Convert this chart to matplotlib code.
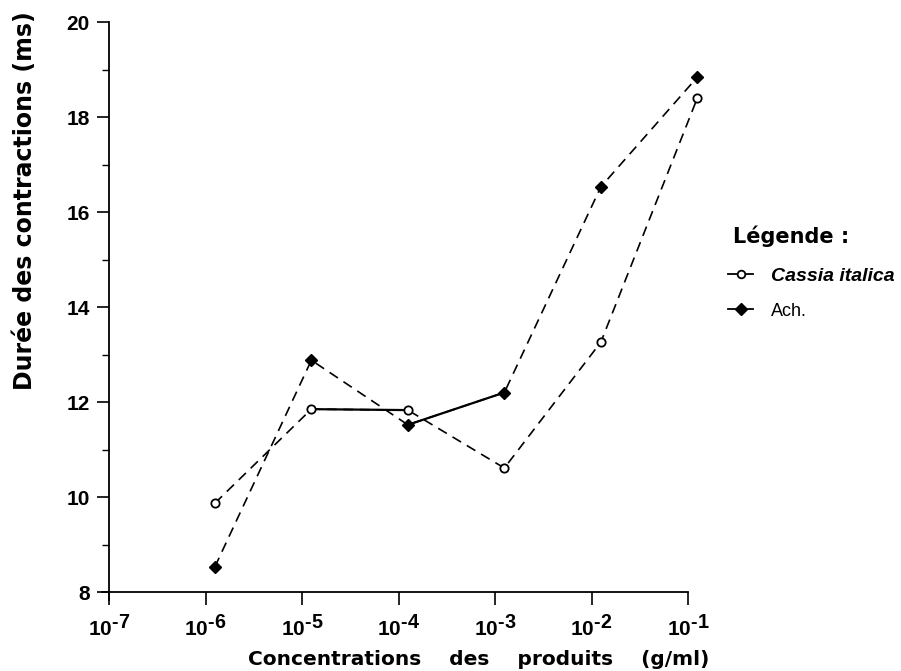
import matplotlib
matplotlib.use("Agg")
import matplotlib.pyplot as plt
import matplotlib._mathtext as mathtext_internals
from matplotlib.lines import Line2D
import numpy as np

plt.rcParams['font.family'] = ['Liberation Sans', 'DejaVu Sans']
plt.rcParams['mathtext.fontset'] = 'custom'
plt.rcParams['mathtext.rm'] = 'Liberation Sans:bold'
plt.rcParams['mathtext.bf'] = 'Liberation Sans:bold'
plt.rcParams['mathtext.it'] = 'Liberation Sans:bold:italic'
# large exponents on the decade labels
mathtext_internals.SHRINK_FACTOR = 0.95

# Concentrations (g/ml) and contraction durations (ms)
concentrations = [1.25e-6, 1.25e-5, 1.25e-4, 1.25e-3, 1.25e-2, 1.25e-1]
cassia_italica = [9.87, 11.85, 11.83, 10.61, 13.26, 18.4]
ach = [8.53, 12.88, 11.52, 12.2, 16.53, 18.84]
x_exponents = [-7, -6, -5, -4, -3, -2, -1]
y_ticks = [8, 10, 12, 14, 16, 18, 20]

fig = plt.figure(figsize=(9.01, 6.71), dpi=100)
ax = fig.add_axes([0.121, 0.1177, 0.6426, 0.8495])

dash = (0, (6, 4))
# Cassia italica: dashed, with a solid stretch between 1e-5 and 1e-4
ax.plot(concentrations, cassia_italica, color='black', lw=1.2, linestyle=dash,
        marker='o', markersize=6, markerfacecolor='white', markeredgecolor='black',
        markeredgewidth=1.3, zorder=3, clip_on=False)
ax.plot(concentrations[1:3], cassia_italica[1:3], color='black', lw=1.6,
        linestyle='-', zorder=2)
# Ach.: dashed, with a solid stretch between 1e-4 and 1e-3
ax.plot(concentrations, ach, color='black', lw=1.2, linestyle=dash,
        marker='D', markersize=6.5, markerfacecolor='black', markeredgecolor='black',
        zorder=3, clip_on=False)
ax.plot(concentrations[2:4], ach[2:4], color='black', lw=1.6,
        linestyle='-', zorder=2)

ax.set_xscale('log')
ax.set_xlim(10.0 ** x_exponents[0], 10.0 ** x_exponents[-1])
ax.set_ylim(y_ticks[0], y_ticks[-1])
ax.set_xticks([10.0 ** e for e in x_exponents])
ax.set_xticklabels([r'$10^{\text{-}%d}$' % (-e) for e in x_exponents], fontsize=15)
ax.xaxis.set_minor_locator(matplotlib.ticker.NullLocator())
ax.set_yticks(y_ticks)
ax.set_yticklabels([str(v) for v in y_ticks], fontsize=15, fontweight='bold')
ax.set_yticks(np.arange(9, 20, 2), minor=True)

for side in ('top', 'right'):
    ax.spines[side].set_visible(False)
for side in ('left', 'bottom'):
    ax.spines[side].set_linewidth(1.3)
ax.tick_params(axis='both', which='major', direction='out', length=9, width=1.2,
               colors='black')
ax.tick_params(axis='x', which='major', pad=7)
ax.tick_params(axis='y', which='major', pad=5)
ax.tick_params(axis='y', which='minor', direction='out', length=5, width=1.0)

# small cross where the two axes meet
ax.plot([-0.012, 0], [0, 0], transform=ax.transAxes, color='black', lw=1.3,
        clip_on=False)
ax.plot([0, 0], [-0.014, 0], transform=ax.transAxes, color='black', lw=1.3,
        clip_on=False)

ax.set_ylabel('Durée des contractions (ms)', fontsize=17, fontweight='bold',
              family='DejaVu Sans')
ax.yaxis.label.set_va('center')
ax.yaxis.set_label_coords(-0.145, 0.686)
ax.set_xlabel('Concentrations    des    produits    (g/ml)', fontsize=14.5,
              fontweight='bold', family='DejaVu Sans')
ax.xaxis.label.set_va('center')
ax.xaxis.set_label_coords(0.639, -0.1175)

# Legend
fig.text(0.813, 0.648, 'Légende :', fontsize=15, fontweight='bold',
         ha='left', va='center', family='DejaVu Sans')
handles = [
    Line2D([], [], color='black', lw=1.3, marker='o', markersize=5.5,
           markerfacecolor='white', markeredgecolor='black', markeredgewidth=1.3),
    Line2D([], [], color='black', lw=1.3, marker='D', markersize=6,
           markerfacecolor='black'),
]
leg = fig.legend(handles, ['Cassia italica', 'Ach.'], loc='upper left',
                 bbox_to_anchor=(0.790, 0.6255), frameon=False,
                 handlelength=1.4, handletextpad=1.0, labelspacing=1.0,
                 fontsize=13)
texts = leg.get_texts()
texts[0].set_style('italic')
texts[0].set_weight('bold')
texts[0].set_fontsize(14)
texts[1].set_weight('normal')

fig.savefig('out.png', dpi=100)
